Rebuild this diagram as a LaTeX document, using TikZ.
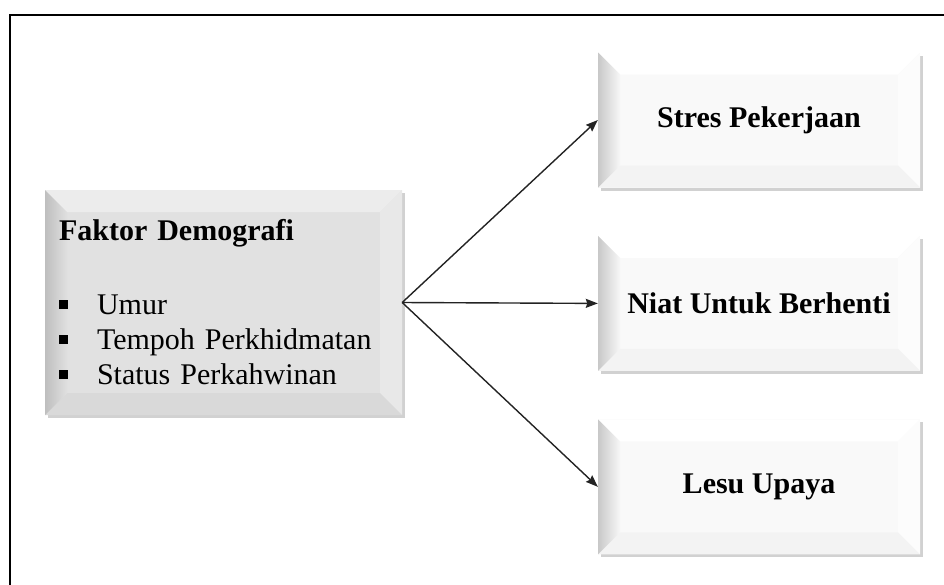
\documentclass[tikz,border=0pt]{standalone}
\usepackage{fontspec}
\setmainfont{Liberation Serif}
\usepackage{xcolor}
\usepackage{tikz}
\usetikzlibrary{arrows.meta,positioning,shadows}

\definecolor{grayface}{RGB}{225,225,225}
\definecolor{graytop}{RGB}{236,236,236}
\definecolor{grayright}{RGB}{232,232,232}
\definecolor{graybot}{RGB}{217,217,217}
\definecolor{grayleftA}{RGB}{190,190,190}
\definecolor{grayleftB}{RGB}{224,224,224}
\definecolor{whiteface}{RGB}{249,249,249}
\definecolor{whitetop}{RGB}{255,255,255}
\definecolor{whiteright}{RGB}{252,252,252}
\definecolor{whitebot}{RGB}{243,243,243}
\definecolor{whiteleftA}{RGB}{200,200,200}
\definecolor{whiteleftB}{RGB}{247,247,247}
\definecolor{arrowgray}{RGB}{35,35,35}

\newcommand{\sqbullet}{\makebox[38pt][l]{\raisebox{6pt}{\rule{9pt}{9pt}}}}

\tikzset{
    bevel face/.store in=\bvface,
    bevel top/.store in=\bvtop,
    bevel right/.store in=\bvright,
    bevel bottom/.store in=\bvbot,
    bevel leftA/.store in=\bvleftA,
    bevel leftB/.store in=\bvleftB,
    bevelbox/.style={rectangle, inner sep=0pt, align=center,
        font=\fontsize{30}{35}\selectfont\bfseries,
        drop shadow={shadow xshift=3pt, shadow yshift=-3pt, fill=black!40, opacity=0.45},
        fill=\bvface,
        path picture={
            \coordinate (pnw) at (path picture bounding box.north west);
            \coordinate (pne) at (path picture bounding box.north east);
            \coordinate (pse) at (path picture bounding box.south east);
            \coordinate (psw) at (path picture bounding box.south west);
            \fill[\bvtop] (pnw) -- (pne) -- ([xshift=-22pt,yshift=-22pt]pne) -- ([xshift=22pt,yshift=-22pt]pnw) -- cycle;
            \fill[\bvright] (pne) -- (pse) -- ([xshift=-22pt,yshift=22pt]pse) -- ([xshift=-22pt,yshift=-22pt]pne) -- cycle;
            \fill[\bvbot] (psw) -- (pse) -- ([xshift=-22pt,yshift=22pt]pse) -- ([xshift=22pt,yshift=22pt]psw) -- cycle;
            \shade[left color=\bvleftA, right color=\bvleftB] (pnw) -- ([xshift=22pt,yshift=-22pt]pnw) -- ([xshift=22pt,yshift=22pt]psw) -- (psw) -- cycle;
        }}
}

\begin{document}
\begin{tikzpicture}[
    x=1pt, y=-1pt,
    node distance=48pt,
    graybox/.style={bevel face=grayface, bevel top=graytop, bevel right=grayright,
        bevel bottom=graybot, bevel leftA=grayleftA, bevel leftB=grayleftB, bevelbox,
        align=left, inner xsep=14pt, text width=329pt, minimum height=225pt,
        font=\fontsize{30}{35}\selectfont},
    whitebox/.style={bevel face=whiteface, bevel top=whitetop, bevel right=whiteright,
        bevel bottom=whitebot, bevel leftA=whiteleftA, bevel leftB=whiteleftB, bevelbox,
        minimum width=322pt, minimum height=135pt},
    frame/.style={line width=1.6pt, draw=black},
    arrow/.style={-{Stealth[length=12pt, width=9pt, inset=1.5pt]}, line width=1.4pt, draw=arrowgray}
]
    \useasboundingbox (0,0) rectangle (944,584);
    \draw [frame] (10,590) -- (10,15) -- (950,15);

    \node [graybox] (demo) at (223.5,302.5) {\textbf{Faktor Demografi}\\[39pt]
        \sqbullet Umur\\
        \sqbullet Tempoh Perkhidmatan\\
        \sqbullet Status Perkahwinan};

    \node [whitebox] (stres) at (759,120) {Stres Pekerjaan};
    \node [whitebox, below=of stres] (niat) {Niat Untuk Berhenti};
    \node [whitebox, below=of niat] (lesu) {Lesu Upaya};

    \draw [arrow] (demo.east) -- (stres.west);
    \draw [arrow] (demo.east) -- (niat.west);
    \draw [arrow] (demo.east) -- (lesu.west);
\end{tikzpicture}
\end{document}
